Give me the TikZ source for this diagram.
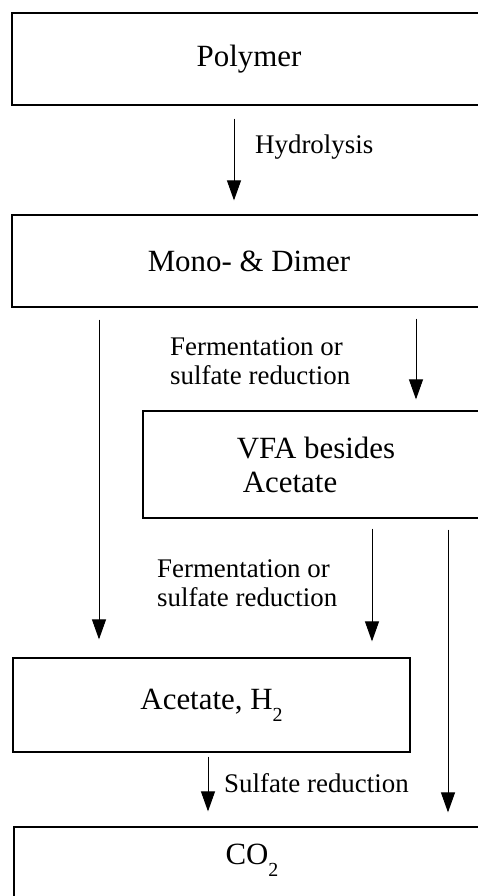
\documentclass[tikz,border=0pt]{standalone}
\usepackage{fontspec}
\setmainfont{Liberation Serif}
\usetikzlibrary{arrows.meta,calc}
\begin{document}
\begin{tikzpicture}[x=1bp,y=-1bp,
 box/.style={draw=black,line width=1.2bp,rectangle,inner sep=0pt,align=center,font=\fontsize{31}{34}\selectfont},
 arr/.style={line width=1bp,-{Triangle[width=14bp,length=20bp]}},
 lab/.style={anchor=west,inner sep=0pt,align=left,font=\fontsize{27}{29.5}\selectfont},
 sub/.style={}]
\useasboundingbox (0,0) rectangle (478,896);
\clip (0,0) rectangle (478,896);
\newcommand{\lowsub}[1]{\raisebox{-0.4em}{\fontsize{20}{20}\selectfont #1}}
% boxes
\node[box,minimum width=474bp,minimum height=92bp] (poly) at (249,59) {Polymer};
\node[box,minimum width=474bp,minimum height=92bp] (mono) at (249,261) {Mono- \& Dimer};
\node[box,minimum width=346bp,minimum height=107bp,align=left] (vfa) at (316,464.5) {VFA besides\\\hspace*{6bp}Acetate};
\node[box,minimum width=397bp,minimum height=94bp] (acet) at (211.5,705) {Acetate, H\lowsub{2}};
\node[box,minimum width=474bp,minimum height=100bp] (co2) at (251,877) {};
\node[inner sep=0pt,font=\fontsize{31}{34}\selectfont] (co2t) at (252,860) {CO\lowsub{2}};
% x positions of connectors
\coordinate (xh) at (234,0);
\coordinate (xl) at (99,0);
\coordinate (xv) at (416,0);
\coordinate (xm) at (372,0);
\coordinate (xr) at (448,0);
\coordinate (xs) at (208,0);
% connectors
\draw[arr,shorten <=13bp,shorten >=14bp] (poly.south -| xh) -- (mono.north -| xh);
\draw[arr,shorten <=12bp,shorten >=18bp] (mono.south -| xl) -- (acet.north -| xl);
\draw[arr,shorten <=11bp,shorten >=11bp] (mono.south -| xv) -- (vfa.north -| xv);
\draw[arr,shorten <=10bp,shorten >=16bp] (vfa.south -| xm) -- (acet.north -| xm);
\draw[arr,shorten <=11bp,shorten >=14bp] (vfa.south -| xr) -- (co2.north -| xr);
\draw[arr,shorten <=4bp,shorten >=15bp] (acet.south -| xs) -- (co2.north -| xs);
% labels
\node[lab] (lh) at (255,147) {Hydrolysis};
\node[lab] (lf1) at (170,361.5) {Fermentation or\\sulfate reduction};
\node[lab] (lf2) at (157,583) {Fermentation or\\sulfate reduction};
\node[lab] (ls) at (224,783) {Sulfate reduction};
\end{tikzpicture}
\end{document}
